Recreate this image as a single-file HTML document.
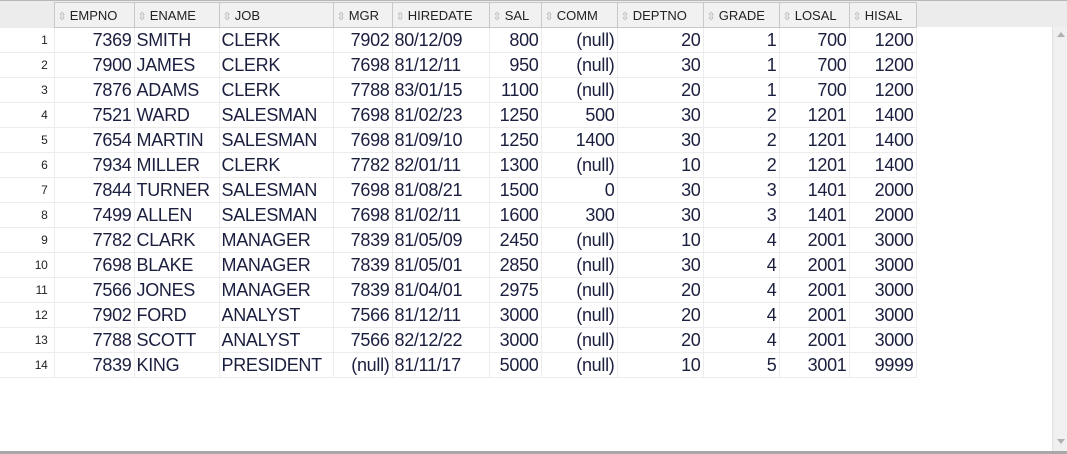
<!DOCTYPE html>
<html><head><meta charset="utf-8"><style>
body{margin:0;width:1067px;height:454px;overflow:hidden;background:#fff;font-family:"Liberation Sans",sans-serif;position:relative}
#hdrband{position:absolute;left:0;top:0;width:1067px;height:27px;background:#ececec;border-top:1px solid #b8b8b8;box-sizing:border-box}
table{position:absolute;left:0;top:2px;border-collapse:collapse;table-layout:fixed}
th{height:24px;padding:0 3px 0 3px;font-weight:normal;font-size:13px;color:#222;background:#f1f1f1;border:1px solid #c8c8c8;text-align:left;white-space:nowrap;overflow:hidden}
th.rn{background:#ececec;border:none}
th .s{color:#aaa;font-size:11px;margin-right:3px}
td{height:24px;padding:0 2px;font-size:18px;color:#1b1f3f;border:1px solid #ececec;white-space:nowrap;overflow:hidden;letter-spacing:-0.3px}
td.rn{font-size:12px;text-align:right;padding-right:6px;color:#222;border-left:none}
td.r{text-align:right}
#scroll{position:absolute;left:1052px;top:27px;width:15px;height:424px;background:#f0f0f0;border-left:1px solid #e0e0e0}
#bottom{position:absolute;left:0;top:451px;width:1067px;height:3px;background:#a8a8a8}
.arr{position:absolute;left:4px;width:0;height:0;border-left:4px solid transparent;border-right:4px solid transparent}
</style></head><body>
<div id="hdrband"></div>
<table>
<colgroup><col style="width:54px"><col style="width:80px"><col style="width:85px"><col style="width:114px"><col style="width:59px"><col style="width:97px"><col style="width:52px"><col style="width:76px"><col style="width:86px"><col style="width:76px"><col style="width:70px"><col style="width:67px"></colgroup>
<thead><tr>
<th class="rn"></th>
<th><span class="s">⇳</span>EMPNO</th>
<th><span class="s">⇳</span>ENAME</th>
<th><span class="s">⇳</span>JOB</th>
<th><span class="s">⇳</span>MGR</th>
<th><span class="s">⇳</span>HIREDATE</th>
<th><span class="s">⇳</span>SAL</th>
<th><span class="s">⇳</span>COMM</th>
<th><span class="s">⇳</span>DEPTNO</th>
<th><span class="s">⇳</span>GRADE</th>
<th><span class="s">⇳</span>LOSAL</th>
<th><span class="s">⇳</span>HISAL</th>
</tr></thead>
<tbody id="tb"></tbody>
</table>
<div id="scroll">
<div class="arr" style="top:5px;border-bottom:5px solid #b0b0b0"></div>
<div class="arr" style="top:412px;border-top:5px solid #b0b0b0"></div>
</div>
<div id="bottom"></div>
<script>
const rows=[
["7369","SMITH","CLERK","7902","80/12/09","800","(null)","20","1","700","1200"],
["7900","JAMES","CLERK","7698","81/12/11","950","(null)","30","1","700","1200"],
["7876","ADAMS","CLERK","7788","83/01/15","1100","(null)","20","1","700","1200"],
["7521","WARD","SALESMAN","7698","81/02/23","1250","500","30","2","1201","1400"],
["7654","MARTIN","SALESMAN","7698","81/09/10","1250","1400","30","2","1201","1400"],
["7934","MILLER","CLERK","7782","82/01/11","1300","(null)","10","2","1201","1400"],
["7844","TURNER","SALESMAN","7698","81/08/21","1500","0","30","3","1401","2000"],
["7499","ALLEN","SALESMAN","7698","81/02/11","1600","300","30","3","1401","2000"],
["7782","CLARK","MANAGER","7839","81/05/09","2450","(null)","10","4","2001","3000"],
["7698","BLAKE","MANAGER","7839","81/05/01","2850","(null)","30","4","2001","3000"],
["7566","JONES","MANAGER","7839","81/04/01","2975","(null)","20","4","2001","3000"],
["7902","FORD","ANALYST","7566","81/12/11","3000","(null)","20","4","2001","3000"],
["7788","SCOTT","ANALYST","7566","82/12/22","3000","(null)","20","4","2001","3000"],
["7839","KING","PRESIDENT","(null)","81/11/17","5000","(null)","10","5","3001","9999"]];
const cols=["empno","ename","job","mgr","hiredate","sal","comm","deptno","grade","losal","hisal"];
const left=[false,true,true,false,true,false,false,false,false,false,false];
const tb=document.getElementById('tb');
rows.forEach((r,i)=>{
 const tr=document.createElement('tr');
 
 
 const n=document.createElement('td');n.className='rn';n.textContent=i+1;
 
 
 tr.appendChild(n);
 r.forEach((v,j)=>{
  const td=document.createElement('td');
  if(!left[j])td.className='r';
  td.textContent=v;
  
  
  tr.appendChild(td);
 });
 tb.appendChild(tr);
});
</script>
</body></html>
